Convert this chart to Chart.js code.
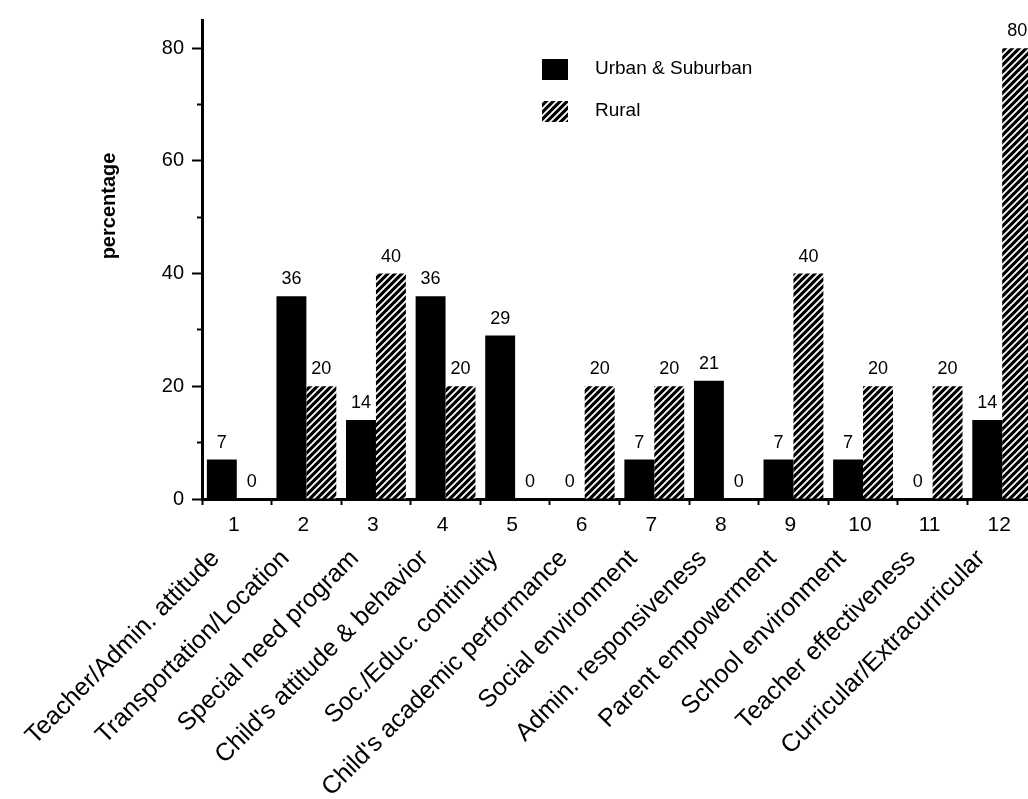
<!DOCTYPE html>
<html>
<head>
<meta charset="utf-8">
<title>Reasons by school setting</title>
<script src="https://cdn.jsdelivr.net/npm/chart.js@4.4.1/dist/chart.umd.min.js"></script>
<style>
  html, body { margin: 0; padding: 0; background: #fff; overflow: hidden; }
  #wrap { width: 1040px; height: 799px; }
</style>
</head>
<body>
<div id="wrap"><canvas id="chart" width="1040" height="799"></canvas></div>
<script>
// Category numbers shown under the axis, and the reason each one stands for
const categoryNumbers = ['1', '2', '3', '4', '5', '6', '7', '8', '9', '10', '11', '12'];
const categoryNames = [
  'Teacher/Admin. attitude',
  'Transportation/Location',
  'Special need program',
  "Child's attitude & behavior",
  'Soc./Educ. continuity',
  "Child's academic performance",
  'Social environment',
  'Admin. responsiveness',
  'Parent empowerment',
  'School environment',
  'Teacher effectiveness',
  'Curricular/Extracurricular'
];

// Percentages per school setting
const urbanSuburban = [7, 36, 14, 36, 29, 0, 7, 21, 7, 7, 0, 14];
const rural = [0, 20, 40, 20, 0, 20, 20, 0, 40, 20, 20, 80];

const seriesLabels = ['Urban & Suburban', 'Rural'];
const majorTicks = [0, 20, 40, 60, 80];
const minorTicks = [10, 30, 50, 70];

const FONT = "'Liberation Sans', Arial, Helvetica, sans-serif";

// White diagonal hatching on black for the rural bars
function makeHatch() {
  const s = 7;
  const c = document.createElement('canvas');
  c.width = s; c.height = s;
  const g = c.getContext('2d');
  g.fillStyle = '#000';
  g.fillRect(0, 0, s, s);
  g.strokeStyle = '#fff';
  g.lineWidth = 1.8;
  g.lineCap = 'square';
  g.beginPath();
  g.moveTo(-1, s + 1); g.lineTo(s + 1, -1);
  g.moveTo(-1, 1); g.lineTo(1, -1);
  g.moveTo(s - 1, s + 1); g.lineTo(s + 1, s - 1);
  g.stroke();
  return g.createPattern(c, 'repeat');
}
const hatch = makeHatch();

// Value printed above every bar
const valueLabels = {
  id: 'valueLabels',
  afterDatasetsDraw(chart) {
    const ctx = chart.ctx;
    ctx.save();
    ctx.fillStyle = '#000';
    ctx.font = '18px ' + FONT;
    ctx.textAlign = 'center';
    ctx.textBaseline = 'alphabetic';
    chart.data.datasets.forEach((ds, di) => {
      const meta = chart.getDatasetMeta(di);
      meta.data.forEach((bar, i) => {
        ctx.fillText(String(ds.data[i]), bar.x, bar.y - 12);
      });
    });
    ctx.restore();
  }
};

// Legend box inside the plot, and the vertical axis title
const decorations = {
  id: 'decorations',
  afterDraw(chart) {
    const ctx = chart.ctx;
    const a = chart.chartArea;
    ctx.save();
    // legend
    const bx = a.left + 340, by = a.top + 39;
    chart.data.datasets.forEach((ds, i) => {
      const y = by + i * 42;
      ctx.fillStyle = ds.backgroundColor;
      ctx.fillRect(bx, y, 26, 21);
      ctx.fillStyle = '#000';
      ctx.font = '19px ' + FONT;
      ctx.textAlign = 'left';
      ctx.textBaseline = 'middle';
      ctx.fillText(ds.label, bx + 53, y + 10);
    });
    // y title
    ctx.translate(109, 206);
    ctx.rotate(-Math.PI / 2);
    ctx.font = 'bold 20px ' + FONT;
    ctx.textAlign = 'center';
    ctx.textBaseline = 'middle';
    ctx.fillStyle = '#000';
    ctx.fillText('percentage', 0, 0);
    ctx.restore();
  }
};

new Chart(document.getElementById('chart'), {
  type: 'bar',
  data: {
    labels: categoryNumbers,
    datasets: [
      { label: seriesLabels[0], data: urbanSuburban, backgroundColor: '#000', borderWidth: 0 },
      { label: seriesLabels[1], data: rural, backgroundColor: hatch, borderWidth: 0 }
    ]
  },
  options: {
    responsive: false,
    animation: false,
    devicePixelRatio: 1,
    layout: { padding: { top: 18, right: 3, left: 0, bottom: 0 } },
    categoryPercentage: 0.86,
    barPercentage: 1.0,
    plugins: { legend: { display: false }, tooltip: { enabled: false } },
    scales: {
      x: {
        type: 'category',
        position: 'bottom',
        offset: true,
        weight: 0,
        grid: { display: true, drawOnChartArea: false, offset: true, tickLength: 6, tickWidth: 2, tickColor: '#000' },
        border: { display: true, width: 3, color: '#000' },
        ticks: { color: '#000', font: { family: FONT, size: 21 }, padding: 8, labelOffset: -3, maxRotation: 0, autoSkip: false },
        afterFit(s) { s.height = 36; }
      },
      names: {
        type: 'category',
        axis: 'x',
        position: 'bottom',
        labels: categoryNames,
        offset: true,
        weight: 1,
        grid: { display: false },
        border: { display: false },
        ticks: { color: '#000', font: { family: FONT, size: 25 }, padding: 1, labelOffset: -21, minRotation: 45, maxRotation: 45, autoSkip: false },
        afterFit(s) { s.height = 264; }
      },
      y: {
        min: 0,
        max: 85,
        weight: 0,
        grid: { drawOnChartArea: false, tickLength: 10, tickWidth: 2, tickColor: '#000' },
        border: { display: true, width: 3, color: '#000' },
        ticks: { color: '#000', font: { family: FONT, size: 20 }, padding: 8, stepSize: 20 },
        afterBuildTicks(s) { s.ticks = majorTicks.map(v => ({ value: v })); },
        afterFit(s) { s.width = 202; }
      },
      yMinor: {
        min: 0,
        max: 85,
        position: 'left',
        weight: -1,
        grid: { drawOnChartArea: false, tickLength: 5, tickWidth: 2, tickColor: '#000' },
        border: { display: false },
        ticks: { display: false, stepSize: 10 },
        afterBuildTicks(s) { s.ticks = minorTicks.map(v => ({ value: v })); },
        afterFit(s) { s.width = 0; }
      }
    }
  },
  plugins: [valueLabels, decorations]
});
</script>
</body>
</html>
